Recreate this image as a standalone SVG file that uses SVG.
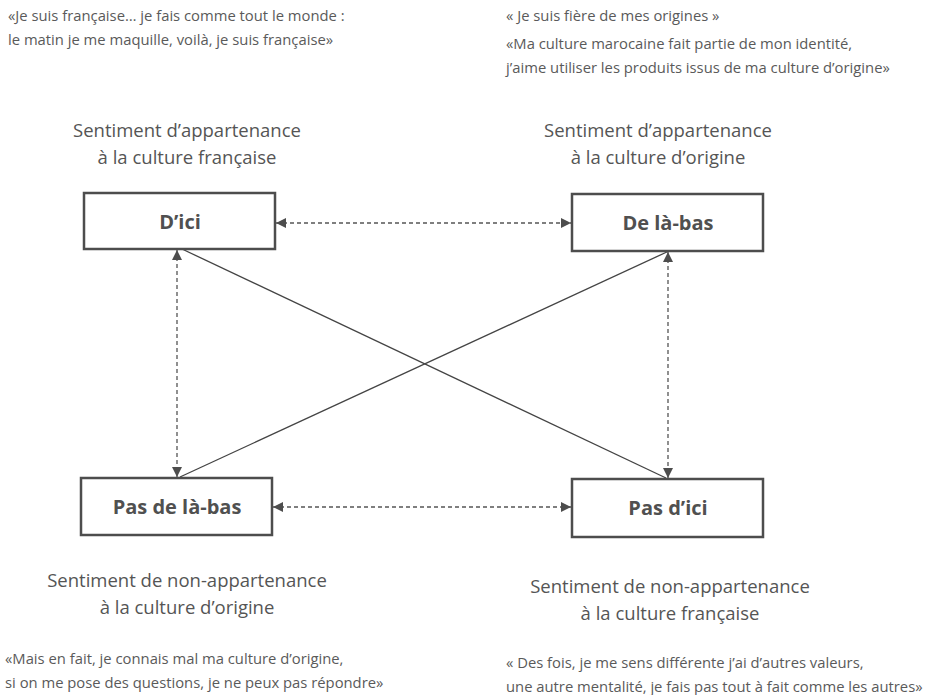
<svg xmlns="http://www.w3.org/2000/svg" width="929" height="695" viewBox="0 0 929 695">
  <style>
    .quote { font-family: "Open Sans", "Liberation Sans", sans-serif; font-size: 14.8px; fill: #5a5a5a; }
    .caption { font-family: "Open Sans", "Liberation Sans", sans-serif; font-size: 18.5px; fill: #555; text-anchor: middle; }
    .box { fill: #fff; stroke: #4d4d4d; stroke-width: 2.5; }
    .label { font-family: "Open Sans", "Liberation Sans", sans-serif; font-size: 20px; font-weight: bold; fill: #505050; text-anchor: middle; }
    .dash { stroke: #555; stroke-width: 1.3; stroke-dasharray: 4 3; fill: none; }
    .solid { stroke: #444; stroke-width: 1.3; fill: none; }
  </style>
  <defs>
    <marker id="head" viewBox="0 0 10 10" refX="10" refY="5" markerWidth="10" markerHeight="10" markerUnits="userSpaceOnUse" orient="auto-start-reverse">
      <path d="M0,0 L10,5 L0,10 Z" fill="#4d4d4d"/>
    </marker>
  </defs>
  <rect width="929" height="695" fill="#fff"/>

  <!-- quotes -->
  <text class="quote" x="8" y="21">«Je suis française… je fais comme tout le monde :</text>
  <text class="quote" x="8" y="45">le matin je me maquille, voilà, je suis française»</text>
  <text class="quote" x="506" y="21">« Je suis fière de mes origines »</text>
  <text class="quote" x="506" y="49">«Ma culture marocaine fait partie de mon identité,</text>
  <text class="quote" x="506" y="73">j’aime utiliser les produits issus de ma culture d’origine»</text>
  <text class="quote" x="5" y="664">«Mais en fait, je connais mal ma culture d’origine,</text>
  <text class="quote" x="5" y="688">si on me pose des questions, je ne peux pas répondre»</text>
  <text class="quote" x="506" y="668">« Des fois, je me sens différente j’ai d’autres valeurs,</text>
  <text class="quote" x="506" y="692">une autre mentalité, je fais pas tout à fait comme les autres»</text>

  <!-- captions -->
  <text class="caption" x="187" y="137">Sentiment d’appartenance</text>
  <text class="caption" x="187" y="164">à la culture française</text>
  <text class="caption" x="658" y="137">Sentiment d’appartenance</text>
  <text class="caption" x="658" y="164">à la culture d’origine</text>
  <text class="caption" x="187" y="587">Sentiment de non-appartenance</text>
  <text class="caption" x="187" y="614">à la culture d’origine</text>
  <text class="caption" x="670" y="593">Sentiment de non-appartenance</text>
  <text class="caption" x="670" y="620">à la culture française</text>

  <!-- connectors -->
  <g id="connectors">
    <line class="dash" x1="276" y1="223" x2="571" y2="223" marker-start="url(#head)" marker-end="url(#head)"/>
    <line class="dash" x1="273" y1="507" x2="571" y2="507" marker-start="url(#head)" marker-end="url(#head)"/>
    <line class="dash" x1="177" y1="250" x2="177" y2="477" marker-start="url(#head)" marker-end="url(#head)"/>
    <line class="dash" x1="668" y1="252" x2="668" y2="478" marker-start="url(#head)" marker-end="url(#head)"/>
    <line class="solid" x1="182" y1="249" x2="666" y2="478"/>
    <line class="solid" x1="669" y1="251" x2="180" y2="477"/>
  </g>

  <!-- nodes -->
  <g id="node-dici">
    <rect class="box" x="84" y="193" width="191" height="56"/>
    <text class="label" x="180" y="229">D’ici</text>
  </g>
  <g id="node-delabas">
    <rect class="box" x="572" y="194" width="191" height="57"/>
    <text class="label" x="668" y="230">De là-bas</text>
  </g>
  <g id="node-pasdelabas">
    <rect class="box" x="81" y="478" width="191" height="57"/>
    <text class="label" x="177" y="514">Pas de là-bas</text>
  </g>
  <g id="node-pasdici">
    <rect class="box" x="572" y="479" width="191" height="58"/>
    <text class="label" x="668" y="515">Pas d’ici</text>
  </g>
</svg>
